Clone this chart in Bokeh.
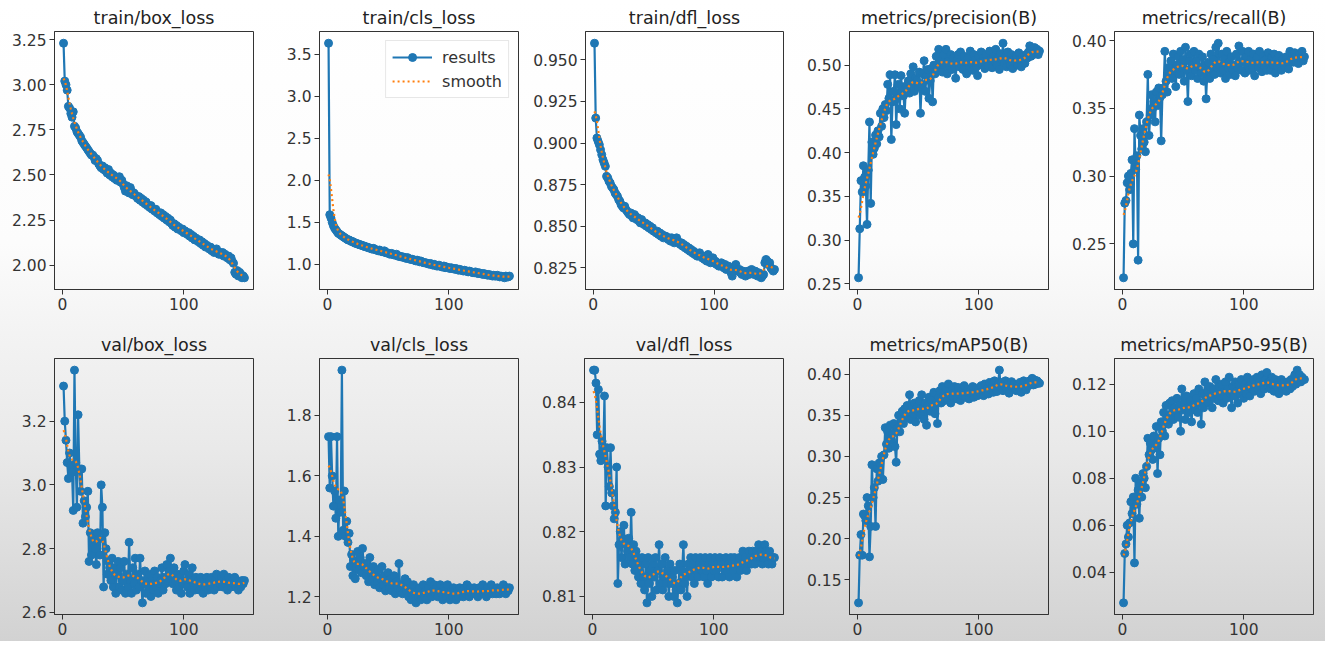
import numpy as np
from bokeh.plotting import figure
from bokeh.layouts import column, row
from bokeh.models import Range1d, FixedTicker, NumeralTickFormatter, Legend, LegendItem
from bokeh.embed import file_html
from bokeh.resources import INLINE

epochs = list(range(1, 151))

titles = ["train/box_loss", "train/cls_loss", "train/dfl_loss", "metrics/precision(B)", "metrics/recall(B)",
          "val/box_loss", "val/cls_loss", "val/dfl_loss", "metrics/mAP50(B)", "metrics/mAP50-95(B)"]

train_box_loss = [
    3.23, 3.02, 3.00, 2.97, 2.88, 2.87, 2.84, 2.82, 2.85, 2.77,
    2.76, 2.74, 2.73, 2.72, 2.71, 2.69, 2.68, 2.67, 2.66, 2.65,
    2.64, 2.63, 2.62, 2.61, 2.61, 2.60, 2.58, 2.59, 2.58, 2.56,
    2.55, 2.54, 2.55, 2.53, 2.54, 2.52, 2.51, 2.53, 2.50, 2.51,
    2.49, 2.50, 2.48, 2.49, 2.47, 2.48, 2.49, 2.46, 2.47, 2.45,
    2.43, 2.41, 2.44, 2.42, 2.40, 2.43, 2.41, 2.39, 2.40, 2.39,
    2.38, 2.37, 2.38, 2.36, 2.37, 2.35, 2.36, 2.34, 2.35, 2.33,
    2.33, 2.32, 2.33, 2.31, 2.31, 2.30, 2.31, 2.29, 2.29, 2.28,
    2.29, 2.27, 2.28, 2.26, 2.27, 2.25, 2.26, 2.24, 2.25, 2.23,
    2.22, 2.23, 2.21, 2.22, 2.20, 2.21, 2.20, 2.19, 2.20, 2.18,
    2.19, 2.18, 2.17, 2.18, 2.16, 2.17, 2.15, 2.16, 2.14, 2.15,
    2.14, 2.13, 2.14, 2.12, 2.13, 2.11, 2.12, 2.10, 2.11, 2.10,
    2.09, 2.10, 2.08, 2.09, 2.07, 2.08, 2.09, 2.07, 2.06, 2.07,
    2.06, 2.07, 2.05, 2.06, 2.05, 2.04, 2.05, 2.03, 2.04, 2.02,
    2.01, 1.96, 1.95, 1.97, 1.94, 1.96, 1.95, 1.93, 1.94, 1.93]

train_cls_loss = [
    3.63, 1.59, 1.55, 1.50, 1.46, 1.43, 1.41, 1.39, 1.37, 1.36,
    1.35, 1.34, 1.33, 1.32, 1.31, 1.30, 1.29, 1.29, 1.28, 1.27,
    1.27, 1.26, 1.25, 1.25, 1.24, 1.24, 1.23, 1.23, 1.22, 1.22,
    1.21, 1.21, 1.20, 1.20, 1.19, 1.19, 1.18, 1.19, 1.18, 1.17,
    1.17, 1.16, 1.17, 1.16, 1.15, 1.15, 1.16, 1.14, 1.14, 1.13,
    1.13, 1.12, 1.13, 1.12, 1.11, 1.11, 1.12, 1.10, 1.10, 1.09,
    1.09, 1.09, 1.08, 1.08, 1.07, 1.08, 1.07, 1.06, 1.06, 1.06,
    1.05, 1.05, 1.04, 1.05, 1.04, 1.03, 1.04, 1.03, 1.02, 1.02,
    1.02, 1.01, 1.01, 1.00, 1.01, 1.00, 0.99, 1.00, 0.99, 0.98,
    0.98, 0.99, 0.98, 0.97, 0.97, 0.98, 0.96, 0.97, 0.96, 0.96,
    0.95, 0.96, 0.95, 0.95, 0.94, 0.95, 0.94, 0.93, 0.94, 0.93,
    0.93, 0.92, 0.93, 0.92, 0.92, 0.91, 0.92, 0.91, 0.91, 0.90,
    0.90, 0.91, 0.90, 0.89, 0.90, 0.89, 0.89, 0.88, 0.89, 0.88,
    0.88, 0.87, 0.88, 0.87, 0.87, 0.86, 0.87, 0.86, 0.86, 0.87,
    0.86, 0.85, 0.86, 0.85, 0.85, 0.84, 0.86, 0.85, 0.85, 0.86]

train_dfl_loss = [
    0.960, 0.915, 0.903, 0.901, 0.899, 0.896, 0.893, 0.890, 0.888, 0.886,
    0.880, 0.879, 0.877, 0.876, 0.874, 0.873, 0.872, 0.870, 0.869, 0.868,
    0.866, 0.865, 0.863, 0.862, 0.861, 0.862, 0.860, 0.859, 0.858, 0.857,
    0.858, 0.856, 0.855, 0.857, 0.856, 0.854, 0.855, 0.853, 0.852, 0.854,
    0.852, 0.851, 0.852, 0.850, 0.851, 0.849, 0.850, 0.848, 0.849, 0.847,
    0.847, 0.846, 0.847, 0.845, 0.846, 0.844, 0.845, 0.843, 0.844, 0.844,
    0.843, 0.842, 0.843, 0.841, 0.843, 0.842, 0.840, 0.841, 0.843, 0.841,
    0.840, 0.839, 0.840, 0.838, 0.839, 0.837, 0.838, 0.836, 0.837, 0.835,
    0.836, 0.834, 0.835, 0.833, 0.834, 0.832, 0.833, 0.834, 0.832, 0.831,
    0.832, 0.830, 0.831, 0.829, 0.833, 0.830, 0.828, 0.829, 0.831, 0.828,
    0.829, 0.827, 0.828, 0.826, 0.827, 0.828, 0.826, 0.825, 0.827, 0.824,
    0.825, 0.826, 0.824, 0.822, 0.820, 0.823, 0.825, 0.827, 0.824, 0.823,
    0.824, 0.822, 0.821, 0.823, 0.821, 0.820, 0.822, 0.823, 0.821, 0.822,
    0.824, 0.822, 0.821, 0.823, 0.821, 0.820, 0.822, 0.820, 0.819, 0.820,
    0.821, 0.828, 0.830, 0.829, 0.827, 0.828, 0.825, 0.824, 0.823, 0.824]

precision = [
    0.257, 0.313, 0.368, 0.355, 0.385, 0.372, 0.362, 0.318, 0.380, 0.435,
    0.342, 0.412, 0.398, 0.405, 0.420, 0.410, 0.425, 0.418, 0.445, 0.430,
    0.450, 0.440, 0.455, 0.448, 0.478, 0.462, 0.489, 0.415, 0.458, 0.470,
    0.489, 0.432, 0.462, 0.478, 0.450, 0.488, 0.470, 0.465, 0.445, 0.476,
    0.472, 0.482, 0.468, 0.490, 0.478, 0.498, 0.470, 0.485, 0.482, 0.475,
    0.492, 0.445, 0.478, 0.490, 0.505, 0.470, 0.488, 0.495, 0.462, 0.482,
    0.496, 0.458, 0.500, 0.490, 0.510, 0.495, 0.518, 0.500, 0.505, 0.492,
    0.512, 0.500, 0.518, 0.490, 0.505, 0.498, 0.512, 0.495, 0.508, 0.500,
    0.485, 0.505, 0.512, 0.498, 0.515, 0.500, 0.495, 0.510, 0.504, 0.490,
    0.508, 0.499, 0.516, 0.502, 0.494, 0.512, 0.506, 0.498, 0.488, 0.510,
    0.503, 0.515, 0.500, 0.508, 0.496, 0.512, 0.505, 0.499, 0.516, 0.507,
    0.497, 0.510, 0.504, 0.518, 0.500, 0.508, 0.495, 0.513, 0.506, 0.525,
    0.502, 0.510, 0.498, 0.515, 0.505, 0.500, 0.512, 0.496, 0.508, 0.503,
    0.510, 0.500, 0.514, 0.505, 0.498, 0.510, 0.506, 0.502, 0.512, 0.508,
    0.515, 0.522, 0.510, 0.518, 0.512, 0.520, 0.514, 0.518, 0.512, 0.516]

recall = [
    0.225, 0.280, 0.282, 0.295, 0.300, 0.290, 0.302, 0.312, 0.250, 0.335,
    0.305, 0.315, 0.238, 0.345, 0.330, 0.320, 0.335, 0.325, 0.318, 0.340,
    0.375, 0.330, 0.345, 0.360, 0.350, 0.355, 0.340, 0.362, 0.352, 0.365,
    0.358, 0.326, 0.360, 0.365, 0.392, 0.370, 0.362, 0.380, 0.375, 0.385,
    0.372, 0.390, 0.378, 0.366, 0.382, 0.388, 0.375, 0.392, 0.380, 0.386,
    0.370, 0.395, 0.378, 0.355, 0.385, 0.390, 0.374, 0.382, 0.392, 0.378,
    0.385, 0.372, 0.390, 0.380, 0.376, 0.388, 0.370, 0.382, 0.357, 0.378,
    0.384, 0.372, 0.390, 0.378, 0.386, 0.375, 0.395, 0.380, 0.398, 0.382,
    0.376, 0.390, 0.378, 0.386, 0.372, 0.392, 0.380, 0.384, 0.375, 0.388,
    0.378, 0.382, 0.374, 0.390, 0.380, 0.396, 0.384, 0.378, 0.392, 0.385,
    0.376, 0.388, 0.382, 0.392, 0.378, 0.386, 0.380, 0.390, 0.374, 0.385,
    0.388, 0.380, 0.392, 0.383, 0.377, 0.389, 0.381, 0.386, 0.378, 0.391,
    0.384, 0.378, 0.388, 0.382, 0.390, 0.376, 0.386, 0.381, 0.389, 0.383,
    0.378, 0.386, 0.382, 0.380, 0.388, 0.384, 0.379, 0.392, 0.386, 0.390,
    0.384, 0.391, 0.386, 0.389, 0.383, 0.390, 0.387, 0.392, 0.385, 0.388]

val_box_loss = [
    3.31, 3.20, 3.14, 3.07, 3.02, 3.10, 3.06, 3.04, 2.92, 3.36,
    3.07, 2.93, 3.22, 3.05, 2.98, 3.05, 2.88, 2.95, 2.90, 2.93,
    2.98, 2.76, 2.85, 2.78, 2.82, 2.84, 2.80, 2.75, 2.85, 2.83,
    2.78, 3.00, 2.93, 2.68, 2.85, 2.80, 2.72, 2.76, 2.74, 2.70,
    2.77, 2.68, 2.74, 2.66, 2.72, 2.76, 2.68, 2.74, 2.67, 2.70,
    2.76, 2.66, 2.72, 2.68, 2.82, 2.70, 2.66, 2.74, 2.69, 2.77,
    2.67, 2.72, 2.68, 2.77, 2.70, 2.63, 2.69, 2.73, 2.66, 2.70,
    2.68, 2.72, 2.65, 2.70, 2.67, 2.73, 2.68, 2.71, 2.66, 2.69,
    2.70, 2.74, 2.67, 2.71, 2.69, 2.75, 2.70, 2.73, 2.77, 2.72,
    2.69, 2.74, 2.70, 2.67, 2.72, 2.68, 2.71, 2.66, 2.69, 2.73,
    2.75, 2.70, 2.68, 2.72, 2.66, 2.70, 2.74, 2.69, 2.67, 2.71,
    2.68, 2.70, 2.67, 2.71, 2.69, 2.66, 2.70, 2.68, 2.71, 2.67,
    2.70, 2.68, 2.71, 2.69, 2.67, 2.70, 2.72, 2.68, 2.70, 2.69,
    2.71, 2.68, 2.72, 2.69, 2.70, 2.67, 2.71, 2.69, 2.68, 2.70,
    2.69, 2.71, 2.68, 2.70, 2.67, 2.69, 2.68, 2.70, 2.69, 2.70]

val_cls_loss = [
    1.73, 1.56, 1.73, 1.60, 1.50, 1.55, 1.46, 1.73, 1.40, 1.52,
    1.48, 1.95, 1.42, 1.55, 1.40, 1.45, 1.38, 1.41, 1.30, 1.34,
    1.27, 1.32, 1.26, 1.30, 1.35, 1.29, 1.33, 1.28, 1.36, 1.30,
    1.31, 1.27, 1.29, 1.25, 1.33, 1.28, 1.26, 1.30, 1.24, 1.27,
    1.25, 1.29, 1.23, 1.26, 1.30, 1.24, 1.27, 1.22, 1.25, 1.28,
    1.23, 1.26, 1.22, 1.24, 1.27, 1.21, 1.25, 1.23, 1.31, 1.22,
    1.24, 1.21, 1.23, 1.26, 1.22, 1.25, 1.20, 1.23, 1.19, 1.22,
    1.24, 1.21, 1.18, 1.22, 1.20, 1.23, 1.19, 1.21, 1.24, 1.20,
    1.22, 1.19, 1.23, 1.21, 1.25, 1.20, 1.22, 1.24, 1.21, 1.23,
    1.20, 1.22, 1.24, 1.21, 1.19, 1.23, 1.22, 1.20, 1.24, 1.21,
    1.19, 1.22, 1.20, 1.23, 1.21, 1.19, 1.22, 1.20, 1.23, 1.21,
    1.22, 1.20, 1.23, 1.21, 1.24, 1.22, 1.20, 1.23, 1.21, 1.22,
    1.23, 1.21, 1.22, 1.20, 1.23, 1.21, 1.22, 1.24, 1.21, 1.22,
    1.20, 1.23, 1.21, 1.22, 1.24, 1.21, 1.23, 1.22, 1.21, 1.23,
    1.22, 1.21, 1.23, 1.22, 1.24, 1.22, 1.21, 1.23, 1.22, 1.23]

val_dfl_loss = [
    0.845, 0.845, 0.843, 0.835, 0.842, 0.832, 0.831, 0.834, 0.832, 0.841,
    0.824, 0.833, 0.830, 0.827, 0.833, 0.826, 0.824, 0.822, 0.823, 0.830,
    0.812, 0.818, 0.820, 0.816, 0.819, 0.821, 0.815, 0.818, 0.817, 0.819,
    0.816, 0.823, 0.815, 0.818, 0.814, 0.817, 0.816, 0.813, 0.815, 0.812,
    0.816, 0.813, 0.811, 0.815, 0.809, 0.816, 0.812, 0.814, 0.810, 0.815,
    0.813, 0.816, 0.811, 0.814, 0.818, 0.812, 0.815, 0.811, 0.813, 0.816,
    0.812, 0.814, 0.810, 0.815, 0.812, 0.813, 0.810, 0.814, 0.811, 0.809,
    0.812, 0.815, 0.811, 0.814, 0.818, 0.812, 0.813, 0.810, 0.815, 0.814,
    0.816, 0.813, 0.815, 0.812, 0.816, 0.814, 0.813, 0.815, 0.816, 0.814,
    0.815, 0.813, 0.816, 0.814, 0.812, 0.815, 0.816, 0.813, 0.815, 0.814,
    0.816, 0.814, 0.815, 0.813, 0.816, 0.815, 0.813, 0.815, 0.814, 0.816,
    0.814, 0.815, 0.813, 0.816, 0.815, 0.814, 0.816, 0.815, 0.813, 0.815,
    0.816, 0.814, 0.815, 0.817, 0.815, 0.816, 0.814, 0.815, 0.817, 0.816,
    0.815, 0.817, 0.816, 0.815, 0.817, 0.816, 0.818, 0.816, 0.817, 0.815,
    0.816, 0.818, 0.817, 0.816, 0.815, 0.817, 0.816, 0.815, 0.816, 0.816]

map50 = [
    0.122, 0.180, 0.205, 0.180, 0.230, 0.228, 0.222, 0.250, 0.240, 0.178,
    0.215, 0.290, 0.250, 0.262, 0.215, 0.285, 0.270, 0.292, 0.275, 0.300,
    0.272, 0.302, 0.335, 0.315, 0.330, 0.310, 0.338, 0.320, 0.328, 0.340,
    0.312, 0.293, 0.335, 0.350, 0.330, 0.345, 0.355, 0.340, 0.358, 0.348,
    0.362, 0.350, 0.375, 0.345, 0.358, 0.352, 0.365, 0.342, 0.360, 0.355,
    0.368, 0.350, 0.375, 0.358, 0.345, 0.365, 0.338, 0.362, 0.372, 0.355,
    0.368, 0.360, 0.378, 0.352, 0.366, 0.340, 0.372, 0.380, 0.365, 0.385,
    0.374, 0.368, 0.382, 0.370, 0.388, 0.376, 0.365, 0.380, 0.372, 0.385,
    0.378, 0.370, 0.384, 0.375, 0.368, 0.380, 0.374, 0.386, 0.372, 0.378,
    0.382, 0.370, 0.380, 0.376, 0.385, 0.372, 0.379, 0.383, 0.374, 0.381,
    0.377, 0.386, 0.380, 0.374, 0.388, 0.379, 0.383, 0.376, 0.390, 0.381,
    0.385, 0.378, 0.392, 0.383, 0.379, 0.388, 0.405, 0.384, 0.390, 0.380,
    0.386, 0.392, 0.383, 0.389, 0.377, 0.386, 0.391, 0.384, 0.388, 0.382,
    0.380, 0.387, 0.384, 0.390, 0.378, 0.386, 0.392, 0.385, 0.381, 0.388,
    0.386, 0.392, 0.389, 0.395, 0.387, 0.393, 0.388, 0.392, 0.390, 0.389]

map50_95 = [
    0.027, 0.048, 0.052, 0.060, 0.055, 0.061, 0.070, 0.065, 0.072, 0.044,
    0.080, 0.069, 0.075, 0.063, 0.078, 0.072, 0.082, 0.080, 0.076, 0.085,
    0.097, 0.090, 0.095, 0.092, 0.088, 0.098, 0.093, 0.102, 0.082, 0.097,
    0.090, 0.104, 0.100, 0.108, 0.098, 0.111, 0.106, 0.103, 0.112, 0.107,
    0.113, 0.105, 0.110, 0.108, 0.114, 0.106, 0.111, 0.100, 0.118, 0.109,
    0.112, 0.105, 0.115, 0.110, 0.108, 0.113, 0.104, 0.111, 0.116, 0.109,
    0.114, 0.108, 0.118, 0.112, 0.103, 0.116, 0.110, 0.121, 0.113, 0.117,
    0.112, 0.119, 0.115, 0.110, 0.118, 0.114, 0.122, 0.116, 0.113, 0.119,
    0.115, 0.120, 0.112, 0.117, 0.121, 0.114, 0.118, 0.123, 0.116, 0.110,
    0.119, 0.115, 0.121, 0.117, 0.112, 0.120, 0.116, 0.122, 0.118, 0.114,
    0.120, 0.116, 0.123, 0.119, 0.115, 0.121, 0.118, 0.122, 0.117, 0.120,
    0.123, 0.118, 0.121, 0.116, 0.124, 0.120, 0.118, 0.122, 0.125, 0.119,
    0.121, 0.118, 0.123, 0.120, 0.117, 0.122, 0.119, 0.121, 0.116, 0.120,
    0.122, 0.118, 0.121, 0.119, 0.117, 0.121, 0.120, 0.118, 0.122, 0.119,
    0.121, 0.124, 0.120, 0.126, 0.122, 0.124, 0.121, 0.123, 0.122, 0.122]

series = [train_box_loss, train_cls_loss, train_dfl_loss, precision, recall,
          val_box_loss, val_cls_loss, val_dfl_loss, map50, map50_95]

x_ticks = [0, 100]
y_ticks = [
    [2.00, 2.25, 2.50, 2.75, 3.00, 3.25],
    [1.0, 1.5, 2.0, 2.5, 3.0, 3.5],
    [0.825, 0.850, 0.875, 0.900, 0.925, 0.950],
    [0.25, 0.30, 0.35, 0.40, 0.45, 0.50],
    [0.25, 0.30, 0.35, 0.40],
    [2.6, 2.8, 3.0, 3.2],
    [1.2, 1.4, 1.6, 1.8],
    [0.81, 0.82, 0.83, 0.84],
    [0.15, 0.20, 0.25, 0.30, 0.35, 0.40],
    [0.04, 0.06, 0.08, 0.10, 0.12],
]
y_formats = ["0.00", "0.0", "0.000", "0.00", "0.00", "0.0", "0.0", "0.00", "0.00", "0.00"]

BLUE = "#1f77b4"
ORANGE = "#ff7f0e"
FONT = "DejaVu Sans"
TXT = "#333333"


def gauss_smooth(y, sigma=3.0):
    y = np.asarray(y, dtype=float)
    r = int(4 * sigma + 0.5)
    k = np.exp(-0.5 * (np.arange(-r, r + 1) / sigma) ** 2)
    k /= k.sum()
    yp = np.pad(y, r, mode="symmetric")
    return np.convolve(yp, k, mode="valid")


FIG_W = 265
rows_spec = [(327, 31, 38), (314, 31, 27)]

xmin, xmax = min(epochs), max(epochs)
xpad = 0.05 * (xmax - xmin)

figs = []
for i, (title, ys) in enumerate(zip(titles, series)):
    h, top, bottom = rows_spec[i // 5]
    sm = gauss_smooth(ys)
    lo, hi = min(ys), max(ys)
    pad = 0.05 * (hi - lo)
    p = figure(width=FIG_W, height=h, output_backend="svg", toolbar_location=None,
               x_range=Range1d(xmin - xpad, xmax + xpad), y_range=Range1d(lo - pad, hi + pad),
               min_border_left=54, min_border_right=12, min_border_top=top, min_border_bottom=bottom)
    p.border_fill_alpha = 0
    p.background_fill_alpha = 0
    p.outline_line_color = TXT
    p.outline_line_width = 1
    p.grid.visible = False

    p.title.text = title
    p.title.align = "center"
    p.title.text_font = FONT
    p.title.text_font_size = "17.5px"
    p.title.text_font_style = "normal"
    p.title.text_color = "#222222"
    p.title.standoff = 7

    for ax in (p.xaxis[0], p.yaxis[0]):
        ax.axis_line_color = TXT
        ax.major_tick_line_color = TXT
        ax.major_tick_out = 5
        ax.major_tick_in = 0
        ax.minor_tick_line_color = None
        ax.major_label_text_font = FONT
        ax.major_label_text_font_size = "15.5px"
        ax.major_label_text_color = TXT
        ax.major_label_standoff = 3
    p.xaxis[0].ticker = FixedTicker(ticks=x_ticks)
    p.xaxis[0].formatter = NumeralTickFormatter(format="0")
    p.yaxis[0].ticker = FixedTicker(ticks=y_ticks[i])
    p.yaxis[0].formatter = NumeralTickFormatter(format=y_formats[i])

    ln = p.line(epochs, ys, line_color=BLUE, line_width=2.2)
    sc = p.scatter(epochs, ys, size=8, fill_color=BLUE, line_color=BLUE)
    smt = p.line(epochs, list(sm), line_color=ORANGE, line_width=2.2, line_dash="2 3")

    if i == 1:
        leg = Legend(items=[LegendItem(label="results", renderers=[ln, sc]),
                            LegendItem(label="smooth", renderers=[smt])],
                     location="top_right")
        leg.label_text_font = FONT
        leg.label_text_font_size = "16px"
        leg.label_text_color = TXT
        leg.border_line_color = "#d0d0d0"
        leg.background_fill_alpha = 0.85
        leg.glyph_width = 40
        leg.glyph_height = 20
        leg.label_height = 20
        leg.spacing = 4
        leg.padding = 6
        leg.margin = 9
        leg.label_standoff = 10
        p.add_layout(leg, "center")
    figs.append(p)

layout = column(row(*figs[:5]), row(*figs[5:]),
                styles={"background": "linear-gradient(to bottom, #ffffff 0%, #fcfcfc 38%, #f3f3f3 52%, #e9e9e9 70%, #dddddd 86%, #d2d2d2 100%)"})

open("out.html", "w").write(file_html(layout, INLINE))
